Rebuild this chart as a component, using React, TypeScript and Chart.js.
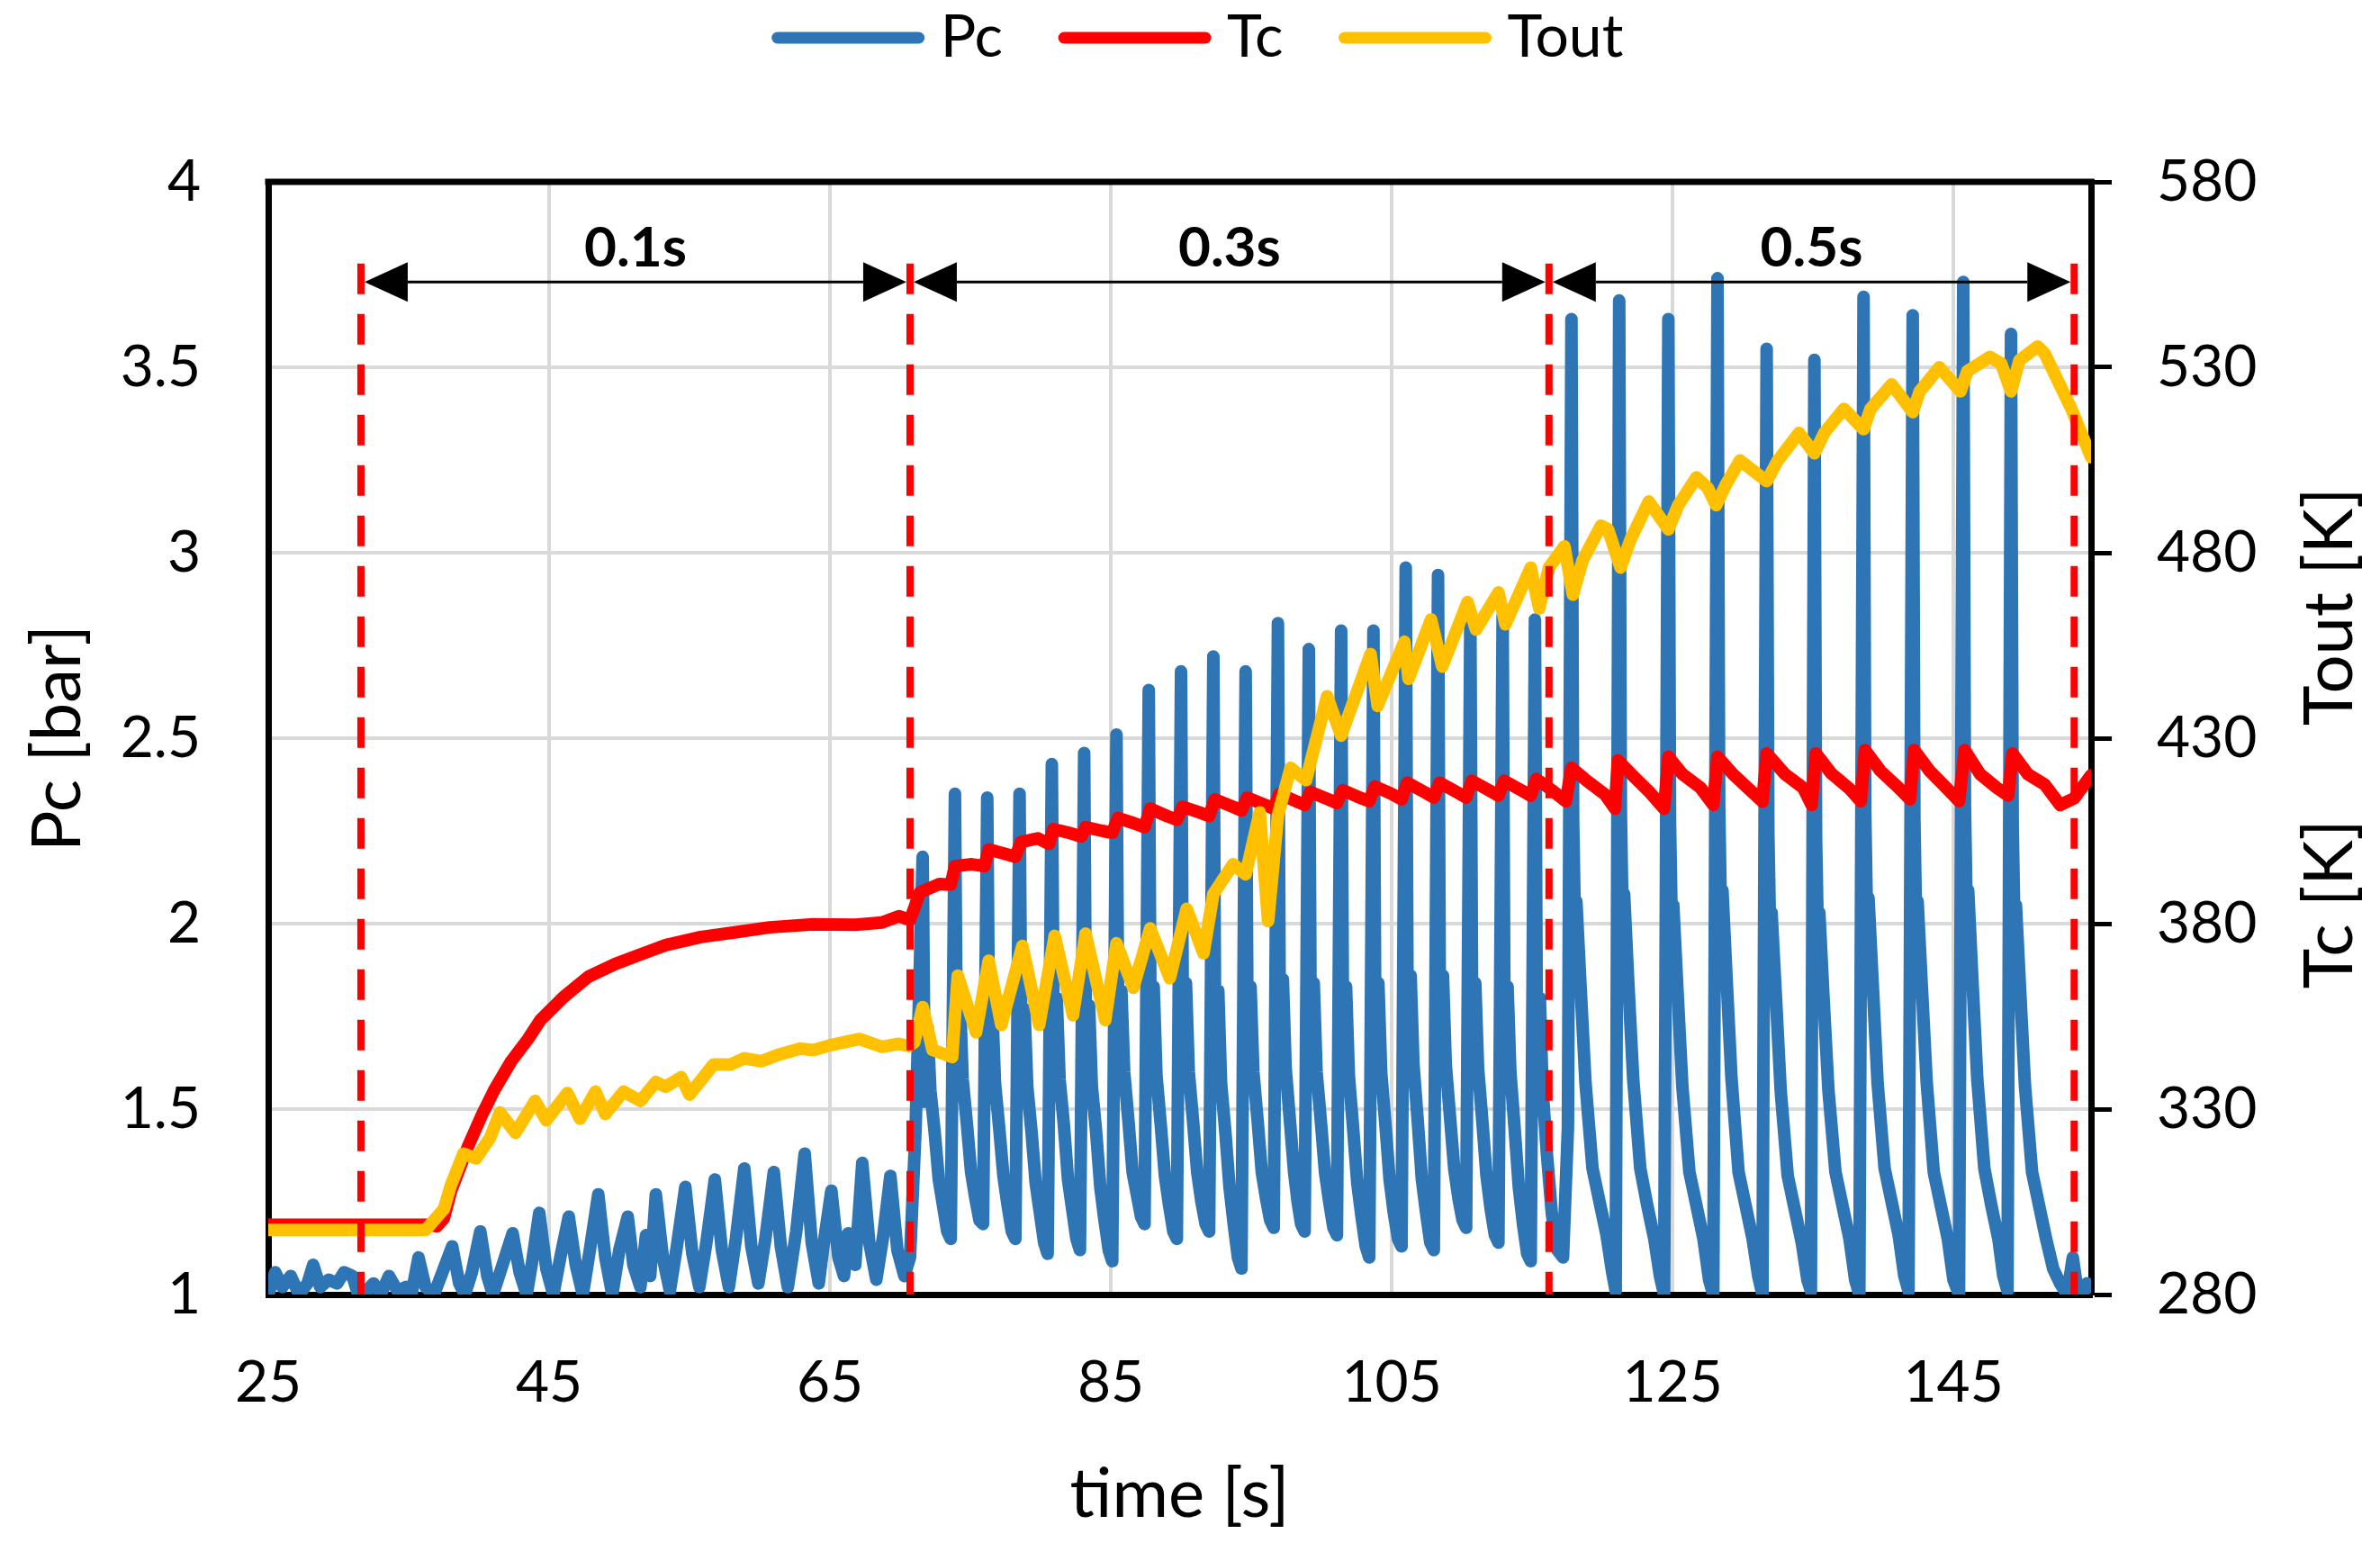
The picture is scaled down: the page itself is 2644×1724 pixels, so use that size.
import React, { useEffect, useRef } from 'react';
import { Chart, registerables } from 'chart.js';

Chart.register(...registerables);

const FONT = 'Lato, "Open Sans", sans-serif';

// axis ticks
const timeTicks = [25, 45, 65, 85, 105, 125, 145];
const pcTicks = [1, 1.5, 2, 2.5, 3, 3.5, 4];
const tempTicks = [280, 330, 380, 430, 480, 530, 580];

const seriesLabels = ['Pc', 'Tc', 'Tout'];

// stage separators (time [s]) and the pulse length written above each stage
const stageBounds = [31.6, 70.7, 116.2, 153.6];
const stageLabels = ['0.1s', '0.3s', '0.5s'];
const stageTop = 3.78;
const arrowLevel = 3.73;
const stageLabelLevel = 3.82;

// Pc [bar] : [time, value]
const pcStage1: [number, number][] = [
  [25.0, 1.0], [25.5, 1.06], [26.0, 1.02], [26.6, 1.05], [27.2, 1.0], [27.8, 1.03], [28.2, 1.08], [28.7, 1.02],
  [29.3, 1.04], [29.9, 1.03], [30.4, 1.06], [31.0, 1.05], [31.4, 1.0], [32.0, 1.01], [32.5, 1.03], [33.0, 1.0],
  [33.6, 1.05], [34.2, 1.01], [34.8, 1.02], [35.2, 1.0], [35.7, 1.1], [36.2, 1.02], [36.8, 1.0], [37.3, 1.05],
  [38.1, 1.13], [38.6, 1.03], [39.0, 1.0], [39.5, 1.06], [40.1, 1.17], [40.6, 1.05], [41.0, 1.0], [41.6, 1.07],
  [42.4, 1.165], [42.9, 1.06], [43.4, 1.0], [43.8, 1.09], [44.3, 1.22], [44.8, 1.07], [45.3, 1.0], [45.8, 1.1],
  [46.4, 1.21], [46.9, 1.08], [47.4, 1.0], [47.9, 1.12], [48.5, 1.27], [49.0, 1.1], [49.5, 1.0], [50.0, 1.12],
  [50.6, 1.21], [51.0, 1.08], [51.5, 1.02], [51.9, 1.16], [52.2, 1.05], [52.6, 1.27], [53.1, 1.1], [53.6, 1.01],
  [54.1, 1.13], [54.7, 1.29], [55.2, 1.11], [55.7, 1.02], [56.2, 1.14], [56.8, 1.31], [57.3, 1.12], [57.8, 1.02],
  [58.3, 1.15], [58.9, 1.34], [59.4, 1.13], [59.9, 1.03], [60.4, 1.15], [61.0, 1.33], [61.5, 1.13], [62.0, 1.02],
  [62.6, 1.17], [63.2, 1.38], [63.7, 1.14], [64.2, 1.03], [64.6, 1.15], [65.1, 1.28], [65.6, 1.1], [66.0, 1.05],
  [66.3, 1.165], [66.8, 1.08], [67.3, 1.355], [67.8, 1.14], [68.3, 1.04], [68.8, 1.16], [69.3, 1.32], [69.8, 1.12],
  [70.3, 1.05], [70.7, 1.1], [71.1, 1.45],
];

const pcStage2: [number, number][] = [
  [71.6, 2.18], [71.75, 1.52], [71.95, 1.72], [72.15, 1.55], [72.45, 1.44], [72.75, 1.31], [73.05, 1.24], [73.35, 1.17], [73.6, 1.15],
  [73.9, 2.35], [74.05, 1.56], [74.25, 1.8], [74.45, 1.58], [74.75, 1.46], [75.05, 1.33], [75.35, 1.26], [75.65, 1.2], [75.9, 1.19],
  [76.2, 2.34], [76.35, 1.55], [76.55, 1.78], [76.75, 1.57], [77.05, 1.45], [77.35, 1.32], [77.65, 1.24], [77.95, 1.17], [78.2, 1.15],
  [78.5, 2.35], [78.65, 1.54], [78.85, 1.77], [79.05, 1.56], [79.35, 1.44], [79.65, 1.3], [79.95, 1.22], [80.25, 1.14], [80.5, 1.11],
  [80.8, 2.43], [80.95, 1.57], [81.15, 1.8], [81.35, 1.58], [81.65, 1.46], [81.95, 1.31], [82.25, 1.23], [82.55, 1.15], [82.8, 1.12],
  [83.1, 2.46], [83.25, 1.55], [83.45, 1.78], [83.65, 1.56], [83.95, 1.44], [84.25, 1.29], [84.55, 1.2], [84.85, 1.12], [85.1, 1.09],
  [85.4, 2.51], [85.55, 1.58], [85.75, 1.82], [85.95, 1.6], [86.25, 1.47], [86.55, 1.33], [86.85, 1.27], [87.15, 1.21], [87.4, 1.19],
  [87.7, 2.63], [87.85, 1.57], [88.05, 1.83], [88.25, 1.59], [88.55, 1.46], [88.85, 1.32], [89.15, 1.24], [89.45, 1.17], [89.7, 1.15],
  [90.0, 2.68], [90.15, 1.58], [90.35, 1.84], [90.55, 1.6], [90.85, 1.47], [91.15, 1.33], [91.45, 1.25], [91.75, 1.19], [92.0, 1.17],
  [92.3, 2.72], [92.45, 1.55], [92.65, 1.82], [92.85, 1.57], [93.15, 1.44], [93.45, 1.29], [93.75, 1.19], [94.05, 1.1], [94.3, 1.07],
  [94.6, 2.68], [94.75, 1.58], [94.95, 1.83], [95.15, 1.6], [95.45, 1.47], [95.75, 1.33], [96.05, 1.26], [96.35, 1.2], [96.6, 1.18],
  [96.9, 2.81], [97.05, 1.59], [97.25, 1.85], [97.45, 1.61], [97.75, 1.47], [98.05, 1.33], [98.3, 1.25], [98.55, 1.19], [98.8, 1.17],
  [99.1, 2.74], [99.25, 1.58], [99.45, 1.84], [99.65, 1.6], [99.95, 1.47], [100.25, 1.33], [100.55, 1.25], [100.85, 1.18], [101.1, 1.16],
  [101.4, 2.79], [101.55, 1.57], [101.75, 1.83], [101.95, 1.59], [102.25, 1.45], [102.55, 1.3], [102.85, 1.21], [103.15, 1.13], [103.4, 1.1],
  [103.7, 2.79], [103.85, 1.58], [104.05, 1.84], [104.25, 1.6], [104.55, 1.46], [104.85, 1.31], [105.15, 1.22], [105.45, 1.15], [105.7, 1.13],
  [106.0, 2.96], [106.15, 1.6], [106.35, 1.86], [106.55, 1.62], [106.85, 1.47], [107.15, 1.31], [107.45, 1.22], [107.75, 1.14], [108.0, 1.12],
  [108.3, 2.94], [108.45, 1.6], [108.65, 1.86], [108.85, 1.62], [109.15, 1.48], [109.45, 1.34], [109.75, 1.26], [110.05, 1.2], [110.3, 1.18],
  [110.6, 2.83], [110.75, 1.59], [110.95, 1.84], [111.15, 1.61], [111.45, 1.47], [111.75, 1.32], [112.05, 1.23], [112.35, 1.16], [112.6, 1.14],
  [112.9, 2.83], [113.05, 1.58], [113.25, 1.83], [113.45, 1.6], [113.75, 1.45], [114.05, 1.29], [114.35, 1.19], [114.65, 1.11], [114.9, 1.09],
  [115.2, 2.82], [115.35, 1.6], [115.55, 1.8], [115.75, 1.55], [116.05, 1.38], [116.4, 1.22], [116.8, 1.12], [117.2, 1.1], [117.55, 1.45],
];

const pcStage3: [number, number][] = [
  [117.8, 3.63], [117.92, 2.28], [118.05, 1.99], [118.15, 2.06], [118.45, 1.83], [118.8, 1.57], [119.3, 1.34], [119.8, 1.25], [120.3, 1.16], [120.7, 1.06], [120.95, 1.01],
  [121.2, 3.68], [121.32, 2.3], [121.45, 2.0], [121.55, 2.08], [121.85, 1.84], [122.2, 1.58], [122.7, 1.34], [123.2, 1.24], [123.7, 1.15], [124.1, 1.05], [124.4, 1.0],
  [124.7, 3.63], [124.82, 2.27], [124.95, 1.98], [125.05, 2.05], [125.35, 1.82], [125.7, 1.56], [126.2, 1.33], [126.7, 1.24], [127.2, 1.15], [127.6, 1.04], [127.9, 1.0],
  [128.2, 3.74], [128.32, 2.32], [128.45, 2.01], [128.55, 2.09], [128.85, 1.85], [129.2, 1.58], [129.7, 1.33], [130.2, 1.24], [130.7, 1.15], [131.1, 1.05], [131.4, 1.0],
  [131.7, 3.55], [131.82, 2.24], [131.95, 1.97], [132.05, 2.03], [132.35, 1.81], [132.7, 1.55], [133.2, 1.32], [133.7, 1.23], [134.2, 1.14], [134.6, 1.04], [134.85, 1.01],
  [135.1, 3.52], [135.22, 2.23], [135.35, 1.96], [135.45, 2.03], [135.75, 1.8], [136.1, 1.55], [136.6, 1.33], [137.1, 1.24], [137.6, 1.15], [138.0, 1.04], [138.3, 1.0],
  [138.6, 3.69], [138.72, 2.3], [138.85, 2.0], [138.95, 2.07], [139.25, 1.84], [139.6, 1.57], [140.1, 1.34], [140.6, 1.25], [141.1, 1.16], [141.5, 1.05], [141.8, 1.01],
  [142.1, 3.64], [142.22, 2.28], [142.35, 1.99], [142.45, 2.06], [142.75, 1.83], [143.1, 1.57], [143.6, 1.33], [144.1, 1.24], [144.6, 1.15], [145.0, 1.04], [145.4, 1.0],
  [145.7, 3.73], [145.82, 2.32], [145.95, 2.01], [146.05, 2.09], [146.35, 1.85], [146.7, 1.58], [147.2, 1.34], [147.7, 1.24], [148.2, 1.15], [148.55, 1.05], [148.85, 1.01],
  [149.1, 3.59], [149.22, 2.26], [149.35, 1.98], [149.45, 2.05], [149.75, 1.82], [150.1, 1.56], [150.6, 1.33], [151.1, 1.24], [151.6, 1.15], [152.1, 1.07], [152.6, 1.03],
  [153.1, 1.0], [153.5, 1.1], [153.8, 1.02], [154.2, 1.0], [154.5, 1.03], [154.8, 1.02],
];

// Tc [K] : [time, value]
const tcPoints: [number, number][] = [
  [25, 298.8], [36.5, 298.8], [37.0, 298.4], [37.5, 300.5], [38.0, 307.7], [39.2, 319.7], [40.2, 328.3], [41.1, 335.2],
  [42.3, 342.9], [43.5, 348.9], [44.4, 354.1], [46.0, 360.1], [47.8, 365.7], [49.7, 369.1], [51.5, 371.7], [53.3, 374.2],
  [55.8, 376.4], [58.3, 377.7], [60.7, 379.0], [63.8, 379.8], [66.8, 379.7], [68.7, 380.3], [69.9, 382.0], [70.7, 381.0],
  [71.4, 388.4], [72.8, 390.7],
  [73.6, 390.5], [73.9, 395.5], [75.1, 396.0], [76.0, 395.5], [76.3, 400.0], [77.3, 399.0],
  [78.2, 398.0], [78.6, 402.0], [79.8, 403.0], [80.6, 401.5], [80.9, 405.5], [82.0, 404.5],
  [82.9, 403.5], [83.2, 406.0], [84.4, 405.0], [85.1, 404.5], [85.5, 408.5], [86.7, 407.0],
  [87.4, 406.0], [87.8, 411.0], [89.0, 409.0], [89.7, 408.0], [90.1, 411.5], [91.3, 410.0],
  [92.0, 409.0], [92.4, 413.5], [93.7, 411.5], [94.3, 410.5], [94.7, 414.0], [96.0, 412.0],
  [96.6, 411.0], [97.0, 415.0], [98.2, 413.0], [98.8, 412.0], [99.2, 415.5], [100.5, 413.5],
  [101.1, 412.5], [101.5, 416.0], [102.7, 414.0], [103.4, 413.0], [103.8, 417.0], [105.0, 415.0],
  [105.7, 413.5], [106.1, 418.0], [107.3, 415.5], [108.0, 414.0], [108.4, 418.0], [109.6, 415.5],
  [110.3, 414.0], [110.7, 418.5], [111.9, 416.0], [112.6, 414.5], [113.0, 418.5], [114.2, 416.0],
  [114.9, 414.5], [115.3, 419.0], [116.4, 416.0],
  [117.4, 413.0], [117.8, 422.0], [118.9, 418.5], [120.2, 414.8], [120.9, 411.0],
  [121.1, 424.0], [122.3, 419.4], [123.3, 415.7], [124.4, 411.0],
  [124.7, 425.0], [125.7, 420.3], [127.0, 416.6], [127.9, 412.0],
  [128.2, 425.0], [129.3, 420.3], [130.6, 415.7], [131.4, 412.9],
  [131.7, 425.9], [133.0, 420.3], [134.3, 416.6], [134.9, 412.0],
  [135.2, 425.9], [136.3, 420.5], [137.6, 416.4], [138.4, 413.0],
  [138.7, 426.8], [139.8, 421.2], [141.1, 416.6], [141.9, 413.5],
  [142.2, 426.8], [143.3, 421.2], [144.5, 416.6], [145.4, 413.0],
  [145.8, 426.8], [146.9, 420.3], [148.1, 416.6], [148.9, 414.5],
  [149.2, 425.9], [150.3, 420.3], [151.5, 417.5], [152.6, 412.0], [153.6, 413.8], [154.8, 420.0],
];

// Tout [K] : [time, value]
const toutPoints: [number, number][] = [
  [25, 297.4], [36.2, 297.4], [36.8, 300.0], [37.5, 303.0], [38.0, 309.4], [38.9, 318.0], [39.8, 316.7], [40.8, 322.3],
  [41.5, 329.1], [42.6, 323.6], [44.0, 332.2], [44.8, 327.0], [46.3, 334.3], [47.2, 327.4], [48.3, 334.7], [49.0, 328.7],
  [50.3, 334.7], [51.5, 332.2], [52.6, 337.3], [53.3, 336.0], [54.4, 338.6], [55.0, 333.9], [56.7, 342.0], [57.9, 342.0],
  [58.9, 343.7], [60.1, 342.9], [61.3, 344.6], [62.9, 346.3], [63.8, 345.9], [65.0, 347.2], [67.1, 348.9], [68.7, 346.8],
  [69.9, 347.6], [70.6, 347.0], [71.0, 348.0], [71.6, 357.5], [72.3, 346.0], [73.7, 344.0], [74.1, 366.0], [75.4, 350.7],
  [76.3, 370.0], [77.2, 352.7], [78.7, 374.0], [79.9, 352.7], [81.0, 376.7], [82.3, 355.3], [83.2, 377.3], [84.6, 354.0],
  [85.4, 374.7], [86.6, 362.7], [87.8, 378.7], [89.2, 365.3], [90.4, 384.0], [91.6, 372.0], [92.3, 388.0], [93.7, 396.0],
  [94.6, 393.3], [95.6, 410.0], [96.2, 380.7], [96.9, 409.3], [97.8, 422.0], [98.9, 418.7], [100.4, 441.3], [101.4, 430.7],
  [103.5, 452.7], [104.0, 438.7], [105.9, 456.0], [106.2, 446.0], [107.8, 462.0], [108.6, 449.3], [110.4, 466.7], [111.0, 459.3],
  [112.6, 469.3], [113.1, 460.7], [114.9, 476.0], [115.5, 465.0], [116.2, 476.0], [117.3, 481.7], [117.9, 468.7], [118.6, 478.0],
  [119.9, 487.3], [120.4, 486.3], [121.3, 476.0], [122.0, 483.5], [123.3, 493.8], [124.7, 486.3], [125.4, 492.8], [126.7, 500.3],
  [127.5, 497.5], [128.1, 492.8], [128.8, 498.4], [129.8, 504.9], [131.7, 499.3], [132.5, 504.9], [134.0, 512.3], [135.1, 506.8],
  [135.8, 512.3], [137.2, 518.8], [138.6, 513.3], [139.1, 518.8], [140.6, 525.4], [142.1, 517.9], [142.6, 523.5], [144.0, 530.0],
  [145.5, 523.5], [146.0, 529.0], [147.6, 532.8], [148.4, 531.0], [149.1, 523.5], [149.7, 531.9], [151.0, 535.6], [151.5, 533.7],
  [153.4, 518.8], [154.8, 505.8],
];

const toXY = (pts: [number, number][]) => pts.map(([x, y]) => ({ x, y }));

const lineColors = { Pc: '#2E75B6', Tc: '#FF0000', Tout: '#FFC000' } as Record<string, string>;
const LINE_W = 14;

const overlayPlugin = {
  id: 'overlay',
  beforeDatasetsDraw(chart: any) {
    const { ctx, chartArea: a } = chart;
    ctx.save();
    ctx.strokeStyle = '#000';
    ctx.lineWidth = 7;
    ctx.beginPath();
    ctx.moveTo(a.left - 3.5, a.top);
    ctx.lineTo(a.right + 3.5, a.top);
    ctx.stroke();
    ctx.restore();
  },
  afterDatasetsDraw(chart: any) {
    const { ctx, scales } = chart;
    const x = scales.x;
    const y = scales.y;
    const ya = y.getPixelForValue(arrowLevel);
    const yl = y.getPixelForValue(stageLabelLevel);
    const head = 48;
    const half = 22;
    ctx.save();
    ctx.strokeStyle = '#000';
    ctx.fillStyle = '#000';
    ctx.lineWidth = 3;
    for (let i = 0; i < stageLabels.length; i++) {
      const a = x.getPixelForValue(stageBounds[i]) + 4;
      const b = x.getPixelForValue(stageBounds[i + 1]) - 4;
      ctx.beginPath();
      ctx.moveTo(a + head, ya);
      ctx.lineTo(b - head, ya);
      ctx.stroke();
      ctx.beginPath();
      ctx.moveTo(a, ya);
      ctx.lineTo(a + head, ya - half);
      ctx.lineTo(a + head, ya + half);
      ctx.closePath();
      ctx.fill();
      ctx.beginPath();
      ctx.moveTo(b, ya);
      ctx.lineTo(b - head, ya - half);
      ctx.lineTo(b - head, ya + half);
      ctx.closePath();
      ctx.fill();
      ctx.font = `bold 62px ${FONT}`;
      ctx.textAlign = 'center';
      ctx.textBaseline = 'middle';
      ctx.fillText(stageLabels[i], (a + b) / 2, yl);
    }
    ctx.restore();
  },
  afterDraw(chart: any) {
    const { ctx, chartArea: area } = chart;
    ctx.save();
    // legend
    ctx.font = `66px ${FONT}`;
    ctx.textBaseline = 'alphabetic';
    ctx.textAlign = 'left';
    const lineLen = 169;
    const textGap = 18;
    const itemGap = 62;
    const widths = seriesLabels.map((l) => lineLen + textGap + ctx.measureText(l).width);
    const total = widths.reduce((s, w) => s + w, 0) + itemGap * (seriesLabels.length - 1);
    let lx = (area.left + area.right) / 2 + 20 - total / 2;
    seriesLabels.forEach((label, i) => {
      ctx.strokeStyle = lineColors[label];
      ctx.lineWidth = 13;
      ctx.lineCap = 'round';
      ctx.beginPath();
      ctx.moveTo(lx + 6, 42);
      ctx.lineTo(lx + lineLen - 6, 42);
      ctx.stroke();
      ctx.fillStyle = '#000';
      ctx.fillText(label, lx + lineLen + textGap, 63);
      lx += widths[i] + itemGap;
    });
    // right axis title, read bottom to top
    ctx.font = `76px ${FONT}`;
    ctx.textAlign = 'center';
    ctx.textBaseline = 'middle';
    const tcText = 'Tc [K]';
    const toutText = 'Tout [K]';
    const wTc = ctx.measureText(tcText).width;
    const wTout = ctx.measureText(toutText).width;
    const gap = 104;
    const yBottom = (area.top + area.bottom) / 2 + (wTc + gap + wTout) / 2;
    const tx = chart.width - 56;
    const place = (text: string, yc: number) => {
      ctx.save();
      ctx.translate(tx, yc);
      ctx.rotate(-Math.PI / 2);
      ctx.fillText(text, 0, 0);
      ctx.restore();
    };
    place(tcText, yBottom - wTc / 2);
    place(toutText, yBottom - wTc - gap - wTout / 2);
    ctx.restore();
  },
};

const App: React.FC = () => {
  const canvasRef = useRef<HTMLCanvasElement | null>(null);
  const chartRef = useRef<Chart | null>(null);

  useEffect(() => {
    document.body.style.margin = '0';
    document.body.style.overflow = 'hidden';
    const canvas = canvasRef.current;
    if (!canvas) return;
    if (chartRef.current) chartRef.current.destroy();

    const tickFont = { family: FONT, size: 64 };
    const titleFont = { family: FONT, size: 76 };

    const separators = stageBounds.map((t) => ({
      label: '',
      data: [
        { x: t, y: stageTop },
        { x: t, y: 1 },
      ],
      yAxisID: 'y',
      borderColor: '#FF0000',
      borderWidth: 8,
      borderDash: [34, 22],
      borderCapStyle: 'butt',
      pointRadius: 0,
      order: 0,
    }));

    const seriesStyle = {
      borderWidth: LINE_W,
      pointRadius: 0,
      borderJoinStyle: 'round',
      borderCapStyle: 'round',
    };

    chartRef.current = new Chart(canvas, {
      type: 'line',
      data: {
        datasets: [
          { label: 'Tout', data: toXY(toutPoints), yAxisID: 'yT', borderColor: lineColors.Tout, order: 1, ...seriesStyle },
          { label: 'Tc', data: toXY(tcPoints), yAxisID: 'yT', borderColor: lineColors.Tc, order: 2, ...seriesStyle },
          {
            label: 'Pc',
            data: toXY([...pcStage1, ...pcStage2, ...pcStage3]),
            yAxisID: 'y',
            borderColor: lineColors.Pc,
            order: 3,
            ...seriesStyle,
          },
          ...separators,
        ] as any,
      },
      options: {
        animation: false,
        responsive: false,
        devicePixelRatio: 1,
        events: [],
        layout: { padding: { top: 202, left: 0, right: 0, bottom: 0 } },
        plugins: {
          legend: { display: false },
          tooltip: { enabled: false },
        },
        scales: {
          x: {
            type: 'linear',
            min: 25,
            max: 154.8,
            afterBuildTicks: (s: any) => {
              s.ticks = timeTicks.map((v) => ({ value: v }));
            },
            afterFit: (s: any) => {
              s.height = 286;
            },
            grid: { color: '#D9D9D9', lineWidth: 4, drawTicks: false },
            border: { color: '#000', width: 7 },
            ticks: {
              font: tickFont,
              color: '#000',
              padding: 60,
              maxRotation: 0,
              autoSkip: false,
              callback: (v: any) => String(v),
            },
            title: {
              display: true,
              text: 'time [s]',
              font: titleFont,
              color: '#000',
              padding: { top: 0, bottom: 18 },
            },
          },
          y: {
            type: 'linear',
            position: 'left',
            min: 1,
            max: 4,
            afterBuildTicks: (s: any) => {
              s.ticks = pcTicks.map((v) => ({ value: v }));
            },
            afterFit: (s: any) => {
              s.width = 298;
            },
            grid: { color: '#D9D9D9', lineWidth: 4, drawTicks: false },
            border: { color: '#000', width: 7 },
            ticks: {
              font: tickFont,
              color: '#000',
              padding: 75,
              autoSkip: false,
              callback: (v: any) => String(v),
            },
            title: {
              display: true,
              text: 'Pc [bar]',
              font: titleFont,
              color: '#000',
              padding: { top: 19, bottom: 0 },
            },
          },
          yT: {
            type: 'linear',
            position: 'right',
            min: 280,
            max: 580,
            afterBuildTicks: (s: any) => {
              s.ticks = tempTicks.map((v) => ({ value: v }));
            },
            afterFit: (s: any) => {
              s.width = 321;
            },
            grid: {
              drawOnChartArea: false,
              drawTicks: true,
              tickLength: 23,
              tickColor: '#000',
              tickWidth: 5,
            },
            border: { color: '#000', width: 7 },
            ticks: {
              font: tickFont,
              color: '#000',
              padding: 50,
              autoSkip: false,
              callback: (v: any) => String(v),
            },
          },
        },
      },
      plugins: [overlayPlugin],
    } as any);

    return () => {
      if (chartRef.current) {
        chartRef.current.destroy();
        chartRef.current = null;
      }
    };
  }, []);

  return (
    <div style={{ width: 2644, height: 1724, background: '#fff' }}>
      <canvas ref={canvasRef} width={2644} height={1724} />
    </div>
  );
};

export default App;
